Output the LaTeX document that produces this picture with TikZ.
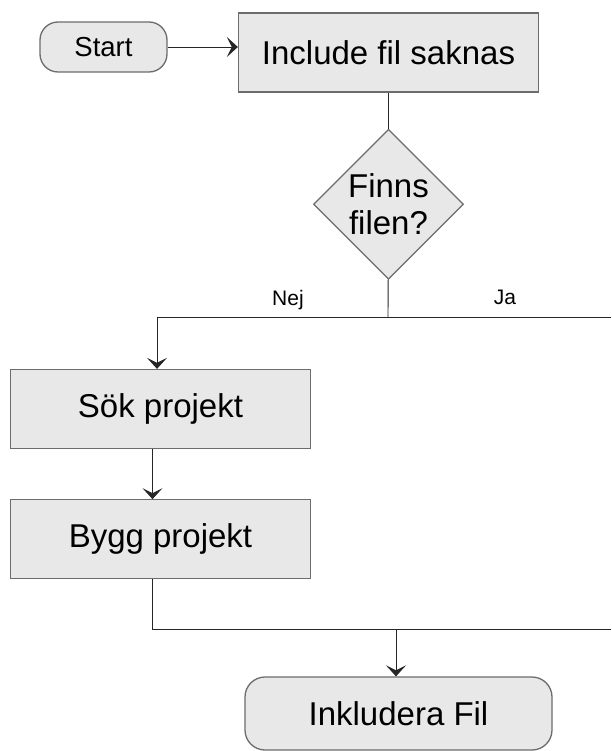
\documentclass[tikz,border=0pt]{standalone}
\usepackage{fontspec}
\setmainfont{Liberation Sans}
\usetikzlibrary{arrows.meta, shapes.geometric, positioning}
\definecolor{boxfill}{RGB}{232,232,232}
\definecolor{boxedge}{RGB}{108,108,108}

\begin{document}
\begin{tikzpicture}[
    x=1pt, y=-1pt,
    proc/.style={draw=boxedge, line width=1.3pt, fill=boxfill, minimum width=300pt,
                 minimum height=79pt, inner sep=0pt, font=\fontsize{33}{37}\selectfont},
    term/.style={proc, rounded corners=20pt},
    dec/.style={draw=boxedge, line width=1.3pt, fill=boxfill, diamond, aspect=1,
                minimum width=150pt, minimum height=150pt, inner sep=0pt, align=center,
                font=\fontsize{33}{37}\selectfont},
    lbl/.style={font=\fontsize{21}{24}\selectfont, inner sep=0pt},
    ln/.style={line width=0.9pt, color=black!85},
    arr/.style={ln, -{Stealth[length=11pt, width=20pt, inset=5pt]}},
  ]
  \useasboundingbox (0,0) rectangle (611,751);
  \node[term, minimum width=127pt, minimum height=50pt, rounded corners=18pt,
        font=\fontsize{27.5}{30}\selectfont] (start) at (103.5,47) {Start};
  \node[proc] (inc) at (388.5,52.5) {Include fil saknas};
  \node[dec, below=36pt of inc] (dia) {Finns\\filen?};
  \node[proc] (sok) at (160.5,409) {Sök projekt};
  \node[proc, below=50pt of sok] (bygg) {Bygg projekt};
  \node[term, minimum width=307pt, minimum height=73pt] (ink) at (398.5,713.5) {Inkludera Fil};
  \node[lbl] (nej) at (288,300) {Nej};
  \node[lbl] (ja) at (505,297) {Ja};
  % junctions
  \coordinate (jn) at (388,317);
  \coordinate (jr) at (611,317);
  \coordinate (mj) at (396,629);
  \coordinate (mr) at (611,629);
  \draw[arr] (start.east) -- (start.east -| inc.west);
  \draw[ln]  (inc) -- (dia);
  \draw[ln]  (dia) -- (jn);
  \draw[ln]  (jn) -- (jr);
  \draw[arr] (jn) -| ([xshift=-3.5pt]sok.north);
  \draw[arr] ([xshift=-8pt]sok.south) -- ([xshift=-8pt]bygg.north);
  \draw[ln]  ([xshift=-8pt]bygg.south) |- (mr);
  \draw[arr] (mj) -- (mj |- ink.north);
\end{tikzpicture}
\end{document}
